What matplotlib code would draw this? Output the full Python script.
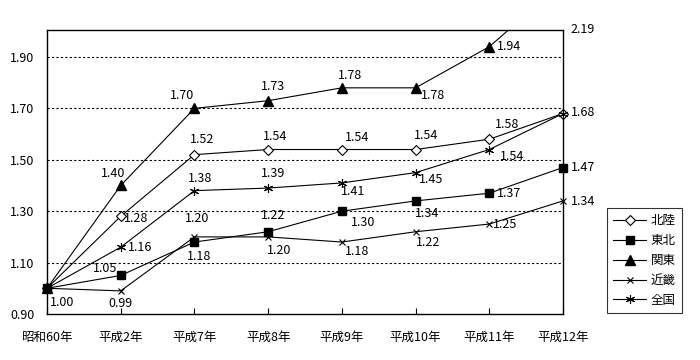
import matplotlib
matplotlib.use("Agg")
import matplotlib.pyplot as plt
import numpy as np
from matplotlib.lines import Line2D

plt.rcParams['font.family'] = ['Noto Sans CJK JP', 'DejaVu Sans']

categories = ['昭和60年', '平成2年', '平成7年', '平成8年', '平成9年', '平成10年', '平成11年', '平成12年']
hokuriku = [1.00, 1.28, 1.52, 1.54, 1.54, 1.54, 1.58, 1.68]
tohoku   = [1.00, 1.05, 1.18, 1.22, 1.30, 1.34, 1.37, 1.47]
kanto    = [1.00, 1.40, 1.70, 1.73, 1.78, 1.78, 1.94, 2.19]
kinki    = [1.00, 0.99, 1.20, 1.20, 1.18, 1.22, 1.25, 1.34]
zenkoku  = [1.00, 1.16, 1.38, 1.39, 1.41, 1.45, 1.54, 1.68]
series_names = ['北陸', '東北', '関東', '近畿', '全国']
yticks = [0.90, 1.10, 1.30, 1.50, 1.70, 1.90]

# label offsets in pixels (dx, dy), None = no label
off_hokuriku = [(15, -14), (15, -2), (8, 15), (7, 13), (15, 12), (11, 14), (18, 15), (20, 1)]
off_tohoku   = [None, (-16, 7), (5, -14), (5, 16), (21, -11), (12, -13), (20, 0), (20, 0)]
off_kanto    = [None, (-8, 12), (-12, 13), (5, 14), (8, 12), (17, -8), (20, 0), None]
off_kinki    = [None, (0, -13), (3, 18), (11, -14), (15, -9), (13, -11), (16, 0), (20, -1)]
off_zenkoku  = [None, (19, 0), (6, 12), (5, 15), (11, -9), (16, -7), (23, -7), None]

fig = plt.figure(figsize=(7, 3.6), dpi=100)
ax = fig.add_axes([47/700, 46/360, 516/700, 284/360])
ymin, ymax = 0.90, 2.005
ax.set_xlim(0, len(categories) - 1)
ax.set_ylim(ymin, ymax)

styles = [
    dict(marker='D', ms=5, mfc='white', mec='black', mew=0.8),
    dict(marker='s', ms=5.8, mfc='black', mec='black'),
    dict(marker='^', ms=6.5, mfc='black', mec='black'),
    dict(marker='x', ms=5, mfc='black', mec='black', mew=0.8),
    dict(marker=(6, 2, 0), ms=6.5, mfc='black', mec='black', mew=0.8),
]
data = [hokuriku, tohoku, kanto, kinki, zenkoku]
offs = [off_hokuriku, off_tohoku, off_kanto, off_kinki, off_zenkoku]
x = np.arange(len(categories))

for ax_y in [1.10, 1.30, 1.50, 1.70, 1.90]:
    ax.axhline(ax_y, color='black', lw=0.8, ls=(0, (2, 2)), zorder=1)

fs = 9
for vals, st, off in zip(data, styles, offs):
    v = np.array(vals)
    ax.plot(x, v, color='black', lw=0.8, zorder=2, clip_on=True)
    m = v <= ymax
    ax.plot(x[m], v[m], ls='none', zorder=3, clip_on=False, **st)
    for xi, yi, o in zip(x, v, off):
        if o is None or yi > ymax:
            continue
        ax.annotate(f'{yi:.2f}', (xi, yi), xytext=o, textcoords='offset pixels',
                    ha='center', va='center', fontsize=fs, annotation_clip=False)

# value beyond the axis top for 関東
ax.annotate(f'{kanto[-1]:.2f}', (len(categories) - 1, ymax), xytext=(20, 1),
            textcoords='offset pixels', ha='center', va='center', fontsize=fs,
            annotation_clip=False)

ax.set_yticks(yticks)
ax.set_yticklabels([f'{t:.2f}' for t in yticks], fontsize=fs)
ax.set_xticks(x)
ax.set_xticklabels(categories, fontsize=fs)
ax.tick_params(axis='y', length=0, pad=9)
ax.tick_params(axis='x', direction='in', length=4, width=0.8, pad=12)
for s in ax.spines.values():
    s.set_linewidth(1.0)

handles = [Line2D([0], [0], color='black', lw=0.8, **st) for st in styles]
leg = fig.legend(handles, series_names, loc='lower left',
                 bbox_to_anchor=(607/700, (360-313)/360, 75/700, 101/360),
                 mode='expand', fontsize=fs, frameon=True, fancybox=False,
                 edgecolor='black', handlelength=2.6, borderaxespad=0,
                 labelspacing=0.55, handletextpad=0.4, borderpad=0.5)
leg.get_frame().set_linewidth(0.8)

fig.savefig('out.png', dpi=100)
